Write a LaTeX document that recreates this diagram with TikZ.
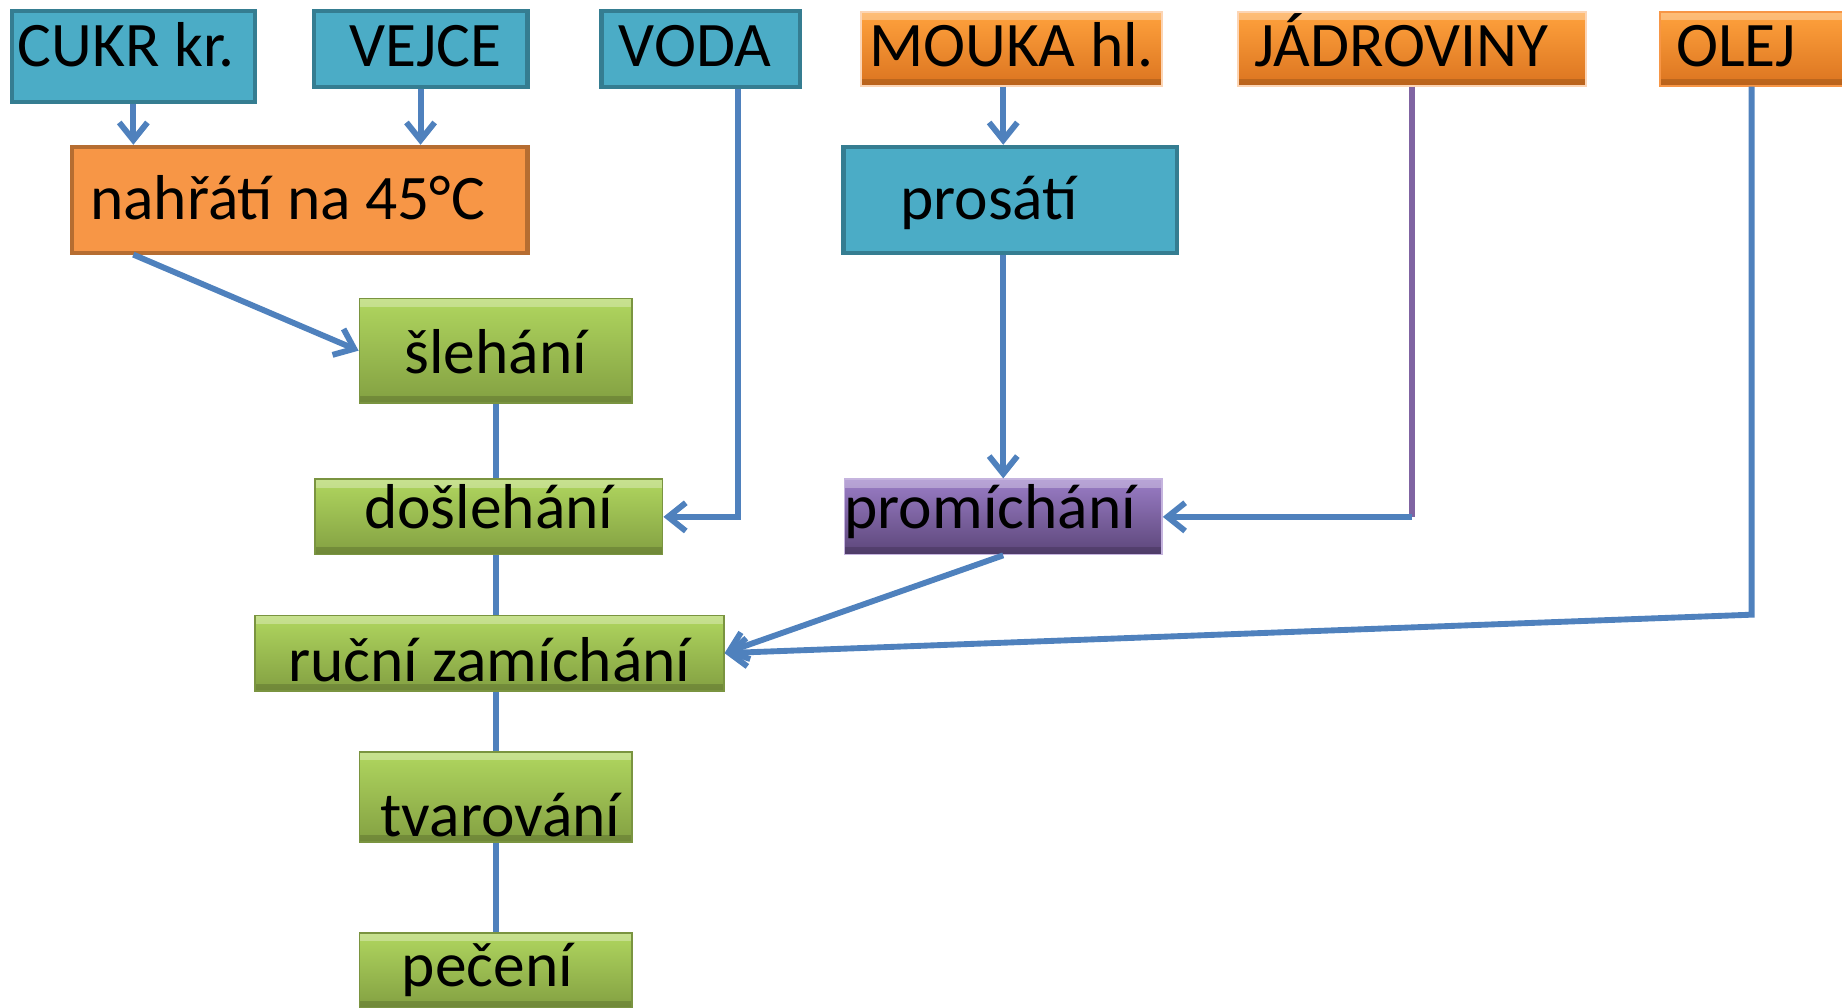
\documentclass[tikz,border=0pt]{standalone}
\usepackage{fontspec}
\setmainfont{Carlito}
\usetikzlibrary{
    arrows.meta,
    positioning
}
\definecolor{tealfill}{HTML}{4BACC6}
\definecolor{tealline}{HTML}{357D91}
\definecolor{warmfill}{HTML}{F79646}
\definecolor{warmline}{HTML}{B66D31}
\definecolor{ortop}{HTML}{FFA23D}
\definecolor{orbot}{HTML}{DB7420}
\definecolor{grtop}{HTML}{B0D65F}
\definecolor{grbot}{HTML}{83A042}
\definecolor{grline}{HTML}{7A9440}
\definecolor{putop}{HTML}{9A7DC6}
\definecolor{pubot}{HTML}{5C4679}
\definecolor{puline}{HTML}{C5B4DE}
\definecolor{flow}{HTML}{4F81BD}
\definecolor{flowpu}{HTML}{8064A2}
\newcommand{\padr}[1]{\hspace{#1}\null}
\tikzset{
    >={Straight Barb[length=15pt,width=24pt]},
    box/.style={inner xsep=0pt, inner ysep=0pt, text=black,
        font=\fontsize{54}{60}\selectfont},
    bevel/.style={path picture={
        \fill[white,opacity=0.3] (path picture bounding box.north west)
            rectangle ([yshift=-7pt]path picture bounding box.north east);
        \fill[black,opacity=0.15] (path picture bounding box.south west)
            rectangle ([yshift=6pt]path picture bounding box.south east);}},
    rawbox/.style={box, draw=tealline, line width=3.5pt, fill=tealfill},
    warmbox/.style={box, draw=warmline, line width=3.5pt, fill=warmfill},
    orbox/.style={box, bevel, draw=warmfill!40, line width=1.5pt,
        top color=ortop, bottom color=orbot},
    stepgreen/.style={box, bevel, draw=grline, line width=1.5pt,
        top color=grtop, bottom color=grbot},
    steppurple/.style={box, bevel, draw=puline, line width=1.5pt,
        top color=putop, bottom color=pubot},
    flowline/.style={draw=flow, line width=5pt},
    flowpurple/.style={draw=flowpu, line width=5pt},
}

\begin{document}
\begin{tikzpicture}[x=1pt,y=-1pt,on grid]
   \useasboundingbox (0,0) rectangle (1568,858);
   % ingredients
   \node[rawbox, minimum width=207pt, text height=48pt, text depth=30pt] (cukr) at (113.5,48) {CUKR kr.\padr{12pt}};
   \node[rawbox, minimum width=182pt, text height=48pt, text depth=17pt] (vejce) at (358,41.5) {\padr{8pt}VEJCE};
   \node[rawbox, minimum width=169pt, text height=48pt, text depth=17pt] (voda) at (596.5,41.5) {VODA\padr{10pt}};
   \node[orbox, minimum width=256pt, text height=47pt, text depth=16pt] (mouka) at (861,41.5) {MOUKA hl.};
   \node[orbox, minimum width=296pt, text height=47pt, text depth=16pt] (jadro) at (1202,41.5) {JÁDROVINY\padr{18pt}};
   \node[orbox, draw=warmfill, minimum width=156pt, text height=47pt, text depth=16pt] (olej) at (1491,41.5) {OLEJ\padr{26pt}};
   % steps
   \node[warmbox, minimum width=388pt, text height=62pt, text depth=28pt] (nahrati) at (255,170) {nahřátí na 45°C\padr{20pt}};
   \node[rawbox, minimum width=284pt, text height=62pt, text depth=28pt] (prosati) at (860,170) {prosátí\padr{36pt}};
   \node[stepgreen, minimum width=232pt, text height=64pt, text depth=25pt] (slehani) at (422,298.5) {šlehání};
   \node[stepgreen, minimum width=296pt, text height=42pt, text depth=22pt] (doslehani) at (416,440) {došlehání};
   \node[steppurple, minimum width=270pt, text height=42pt, text depth=22pt] (promichani) at (854,440) {promíchání\padr{22pt}};
   \node[stepgreen, minimum width=399pt, text height=56pt, text depth=8pt] (rucni) at (416.5,556) {ruční zamíchání};
   \node[stepgreen, minimum width=232pt, text height=72pt, text depth=5pt] (tvarovani) [below=380pt of slehani] {\padr{8pt}tvarování};
   \node[stepgreen, minimum width=232pt, text height=46pt, text depth=18pt] (peceni) [below=147.5pt of tvarovani] {pečení\padr{14pt}};
   % connectors
   \draw[flowline,->] (cukr.south) -- (cukr.south |- nahrati.north);
   \draw[flowline,->] (vejce.south) -- (vejce.south |- nahrati.north);
   \draw[flowline,->] (nahrati.south -| cukr) -- (slehani.west);
   \draw[flowline] (slehani.south) -- (slehani.south |- doslehani.north);
   \draw[flowline,->] ([xshift=31.5pt]voda.south) |- (doslehani.east);
   \draw[flowline] (doslehani.south -| slehani) -- (rucni.north -| slehani);
   \draw[flowline,->] (promichani |- mouka.south) -- (promichani |- prosati.north);
   \draw[flowline,->] (promichani |- prosati.south) -- (promichani.north);
   \draw[flowpurple] (jadro.south) -- (jadro |- promichani.east);
   \draw[flowline,->] (jadro |- promichani.east) -- (promichani.east);
   \draw[flowline,->] (promichani.south) -- (rucni.east);
   \draw[flowline,->] (olej.south) -- (olej |- rucni.north) -- (rucni.east);
   \draw[flowline] (rucni.south -| slehani) -- (tvarovani.north);
   \draw[flowline] (tvarovani.south) -- (peceni.north);
\end{tikzpicture}
\end{document}
